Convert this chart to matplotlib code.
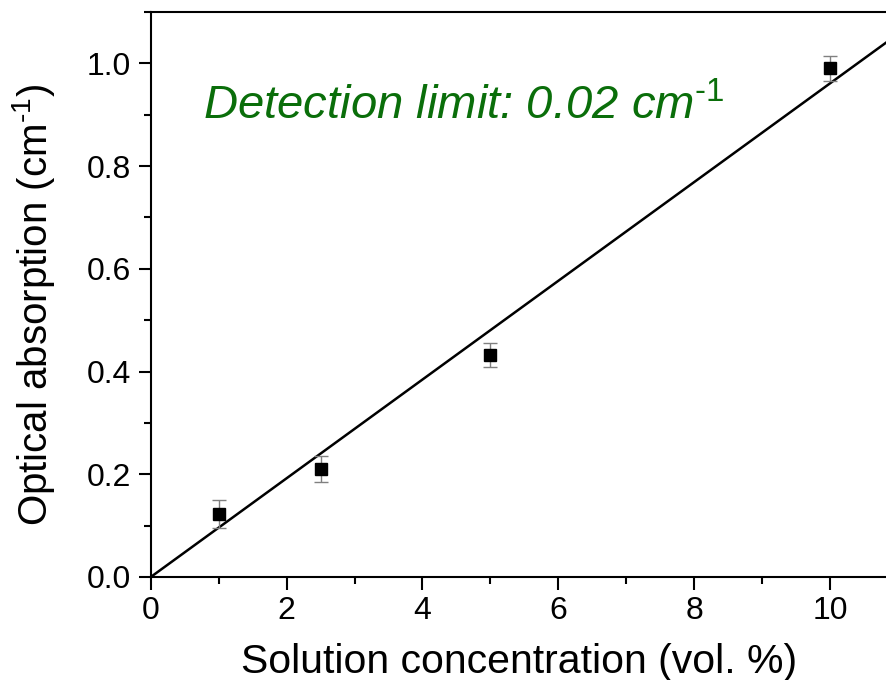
import numpy as np
import matplotlib.pyplot as plt
from matplotlib.ticker import MultipleLocator

plt.rcParams['font.family'] = ['Liberation Sans', 'DejaVu Sans']
plt.rcParams['mathtext.fontset'] = 'custom'
plt.rcParams['mathtext.rm'] = 'Liberation Sans'
plt.rcParams['mathtext.it'] = 'Liberation Sans:italic'

conc = np.array([1.0, 2.5, 5.0, 10.0])
absorb = np.array([0.123, 0.210, 0.432, 0.990])
err = np.array([0.027, 0.025, 0.024, 0.024])

# least-squares line through the origin
slope = np.sum(conc * absorb) / np.sum(conc ** 2)
xfit = np.array([0, 12])

fig = plt.figure(figsize=(8.87, 6.80), dpi=100)
ax = fig.add_axes([0.170, 0.1515, 0.83, 0.8309])

ax.plot(xfit, slope * xfit, color='black', lw=1.8)
ax.errorbar(conc, absorb, yerr=err, fmt='s', color='black', ms=8,
            ecolor='gray', elinewidth=1, capsize=5, capthick=1)

ax.set_xlim(0, 10.84)
ax.set_ylim(0, 1.1)
ax.xaxis.set_major_locator(MultipleLocator(2))
ax.xaxis.set_minor_locator(MultipleLocator(1))
ax.yaxis.set_major_locator(MultipleLocator(0.2))
ax.yaxis.set_minor_locator(MultipleLocator(0.1))
ax.yaxis.set_major_formatter(plt.FuncFormatter(lambda v, p: f'{v:.1f}'))

ax.spines['right'].set_visible(False)
for s in ['left', 'bottom', 'top']:
    ax.spines[s].set_linewidth(1.5)
ax.tick_params(which='major', direction='out', length=9, width=1.5, labelsize=23, pad=5)
ax.tick_params(which='minor', direction='out', length=5, width=1.5)

ax.set_xlabel('Solution concentration (vol. %)', fontsize=29.5, labelpad=12)
ax.set_ylabel(r'Optical absorption (cm$^{\text{-}1}$)', fontsize=29)
ax.yaxis.set_label_coords(-0.128, 0.481)

ax.text(0.0706, 0.809, r'Detection limit: 0.02 cm$^{\text{-}1}$', fontsize=34,
        style='italic', color='#0a6e0a', transform=ax.transAxes, va='baseline')

fig.savefig('out.png', dpi=100)
